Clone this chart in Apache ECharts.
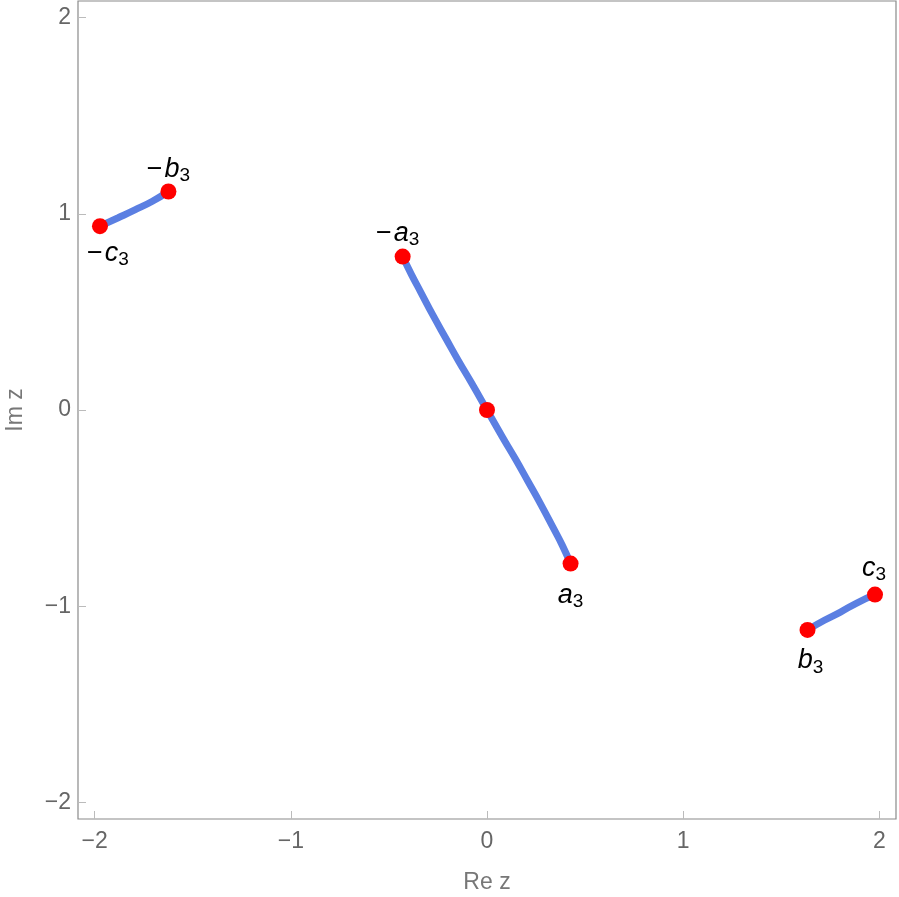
<!DOCTYPE html>
<html>
<head>
<meta charset="utf-8">
<style>
  html, body { margin: 0; padding: 0; background: #fff; }
  #chart { width: 899px; height: 897px; }
</style>
<script src="https://cdn.jsdelivr.net/npm/echarts@6/dist/echarts.min.js"></script>
</head>
<body>
<div id="chart"></div>
<script>
// tick labels
var xTicks = [-2, -1, 0, 1, 2];
var yTicks = [-2, -1, 0, 1, 2];

// arc through -a3, 0, a3
var midRe = [-0.430, -0.385, -0.340, -0.275, -0.208, -0.145, -0.080, 0, 0.080, 0.145, 0.208, 0.275, 0.340, 0.384, 0.426];
var midIm = [0.782, 0.690, 0.605, 0.482, 0.362, 0.250, 0.140, 0, -0.140, -0.250, -0.362, -0.482, -0.605, -0.690, -0.783];

// arc from -c3 to -b3
var leftRe = [-1.973, -1.880, -1.795, -1.708, -1.624];
var leftIm = [0.937, 0.980, 1.020, 1.063, 1.114];

// arc from b3 to c3
var rightRe = [1.634, 1.720, 1.802, 1.885, 1.978];
var rightIm = [-1.121, -1.072, -1.030, -0.984, -0.941];

// marked points
var ptNames = ["-c", "-b", "-a", "", "a", "b", "c"];
var ptRe = [-1.973, -1.624, -0.430, 0, 0.426, 1.634, 1.978];
var ptIm = [0.937, 1.114, 0.782, 0, -0.783, -1.121, -0.941];

function pairs(xs, ys) {
  var res = [];
  for (var i = 0; i < xs.length; i++) res.push([xs[i], ys[i]]);
  return res;
}

// label offsets from point centre, px
var labelOffset = {
  "-c": [8, 27],
  "-b": [0, -22],
  "-a": [-5, -23],
  "a": [0, 32],
  "b": [3, 31],
  "c": [-1, -26]
};

var points = [];
for (var i = 0; i < ptNames.length; i++) {
  var n = ptNames[i];
  var item = { value: [ptRe[i], ptIm[i]], name: n };
  if (n) {
    item.label = {
      show: true,
      position: "inside",
      offset: labelOffset[n],
      formatter: (n.charAt(0) === "-" ? "{m|\u2212}{v|" + n.slice(1) + "}" : "{v|" + n + "}") + "{s|3}"
    };
  } else {
    item.label = { show: false };
  }
  points.push(item);
}

var curveStyle = { color: "#5b7fe2", width: 7 };
var tickFont = { color: "#666", fontSize: 23, fontFamily: "Liberation Sans" };
function minus(v) { return v < 0 ? "\u2212" + (-v) : String(v); }

var option = {
  backgroundColor: "#fff",
  animation: false,
  grid: {
    left: 78, right: 3, top: 1, bottom: 78,
    containLabel: false,
    outerBoundsMode: "none",
    show: true, borderColor: "#8a8a8a", borderWidth: 1.2, backgroundColor: "transparent"
  },
  xAxis: {
    type: "value",
    min: -2.085, max: 2.085,
    name: "Re z",
    nameLocation: "middle",
    nameGap: 52,
    nameTextStyle: { color: "#777", fontSize: 23, fontFamily: "Liberation Sans" },
    axisLine: { show: false, onZero: false },
    splitLine: { show: false },
    axisTick: { show: true, inside: true, length: 8, customValues: xTicks, lineStyle: { color: "#bbb", width: 1 } },
    axisLabel: Object.assign({ customValues: xTicks, margin: 11, formatter: minus }, tickFont)
  },
  yAxis: {
    type: "value",
    min: -2.085, max: 2.085,
    name: "Im z",
    nameLocation: "middle",
    nameRotate: 90,
    nameGap: 51,
    nameTextStyle: { color: "#777", fontSize: 23, fontFamily: "Liberation Sans" },
    axisLine: { show: false, onZero: false },
    splitLine: { show: false },
    axisTick: { show: true, inside: true, length: 8, customValues: yTicks, lineStyle: { color: "#bbb", width: 1 } },
    axisLabel: Object.assign({ customValues: yTicks, margin: 7, formatter: minus }, tickFont)
  },
  series: [
    { type: "line", data: pairs(midRe, midIm), showSymbol: false, smooth: 0.5, lineStyle: curveStyle, z: 2 },
    { type: "line", data: pairs(leftRe, leftIm), showSymbol: false, smooth: 0.5, lineStyle: curveStyle, z: 2 },
    { type: "line", data: pairs(rightRe, rightIm), showSymbol: false, smooth: 0.5, lineStyle: curveStyle, z: 2 },
    {
      type: "scatter",
      data: points,
      symbolSize: 16,
      itemStyle: { color: "#ff0000", opacity: 1 },
      z: 3,
      label: {
        color: "#000",
        rich: {
          m: { fontSize: 27, fontFamily: "Liberation Sans", color: "#000", lineHeight: 32, verticalAlign: "middle", padding: [0, 2, 0, 0] },
          v: { fontSize: 27, fontFamily: "Liberation Sans", fontStyle: "italic", color: "#000", lineHeight: 32, verticalAlign: "middle" },
          s: { fontSize: 19, fontFamily: "Liberation Sans", color: "#000", lineHeight: 19, verticalAlign: "bottom" }
        }
      }
    }
  ]
};

var chart = echarts.init(document.getElementById("chart"));
chart.setOption(option);
</script>
</body>
</html>
